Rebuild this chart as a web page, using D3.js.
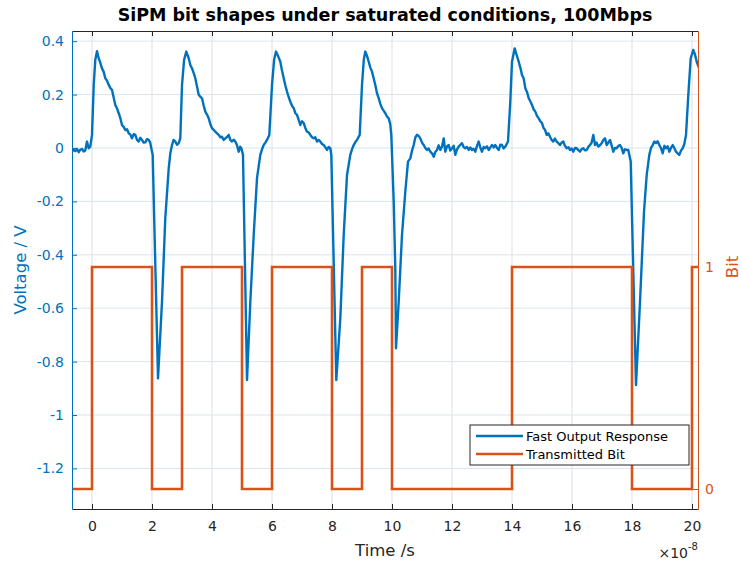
<!DOCTYPE html>
<html>
<head>
<meta charset="utf-8">
<script src="https://cdn.jsdelivr.net/npm/d3@7"></script>
<style>
body { margin: 0; background: #fff; }
svg { font-family: "DejaVu Sans", sans-serif; }
</style>
</head>
<body>
<svg id="chart" width="742" height="562"></svg>
<script>
// time is in units of 1e-8 s, voltage in V
var fastOutput = [
  [-0.667,-0.014],[-0.62,-0.006],[-0.557,-0.012],[-0.5,-0.004],[-0.443,-0.016],[-0.39,-0.006],[-0.333,-0.004],[-0.28,-0.013],
  [-0.223,-0.009],[-0.167,0.024],[-0.11,-0.001],[-0.057,0.005],[0,0.049],[0.057,0.236],[0.11,0.33],[0.167,0.362],
  [0.223,0.336],[0.28,0.318],[0.333,0.298],[0.39,0.285],[0.443,0.261],[0.5,0.252],[0.557,0.236],[0.61,0.225],[0.667,0.217],
  [0.72,0.19],[0.777,0.161],[0.833,0.148],[0.89,0.130],[0.943,0.112],[1.0,0.086],[1.055,0.079],[1.11,0.067],[1.167,0.07],
  [1.223,0.055],[1.28,0.05],[1.333,0.036],[1.39,0.052],[1.443,0.049],[1.5,0.03],[1.557,0.024],[1.61,0.038],[1.667,0.030],
  [1.72,0.02],[1.777,0.021],[1.833,0.033],[1.89,0.030],[1.94,0.02],[1.977,-0.001],[2.023,-0.026],
  [2.2,-0.863],[2.333,-0.576],[2.443,-0.263],[2.557,-0.076],[2.61,-0.02],[2.667,0.011],[2.72,0.03],[2.777,0.024],[2.833,0.012],
  [2.89,0.018],[2.943,0.036],[3.0,0.236],[3.07,0.33],[3.143,0.361],
  [3.223,0.336],[3.28,0.31],[3.333,0.298],[3.39,0.28],[3.443,0.261],[3.5,0.23],[3.557,0.199],[3.61,0.192],[3.667,0.186],
  [3.72,0.16],[3.777,0.136],[3.833,0.125],[3.89,0.111],[3.943,0.09],[4.0,0.074],[4.055,0.068],[4.11,0.061],[4.167,0.055],
  [4.223,0.049],[4.28,0.04],[4.333,0.042],[4.39,0.03],[4.443,0.036],[4.5,0.041],[4.557,0.049],[4.61,0.03],[4.667,0.024],
  [4.72,0.031],[4.777,0.024],[4.833,0.01],[4.89,-0.014],[4.94,0.005],[4.977,-0.001],[5.033,-0.026],
  [5.167,-0.869],[5.277,-0.576],[5.39,-0.326],[5.5,-0.113],[5.61,-0.026],[5.667,-0.005],[5.723,0.011],[5.78,0.02],
  [5.833,0.030],[5.91,0.049],[6.0,0.236],[6.07,0.33],[6.133,0.361],
  [6.2,0.345],[6.277,0.323],[6.333,0.29],[6.39,0.261],[6.443,0.235],[6.5,0.211],[6.557,0.19],[6.61,0.173],[6.667,0.158],
  [6.723,0.149],[6.78,0.13],[6.833,0.124],[6.89,0.105],[6.943,0.086],[7.0,0.1],[7.057,0.093],[7.11,0.075],[7.167,0.061],
  [7.223,0.058],[7.277,0.049],[7.333,0.04],[7.39,0.036],[7.443,0.04],[7.5,0.024],[7.557,0.03],[7.61,0.024],[7.667,0.015],
  [7.723,0.011],[7.78,0.002],[7.833,-0.0075],[7.89,0.004],[7.943,-0.001],[7.977,-0.026],
  [8.143,-0.869],[8.277,-0.638],[8.39,-0.326],[8.5,-0.101],[8.61,-0.026],[8.667,-0.005],[8.723,0.011],[8.78,0.022],
  [8.833,0.030],[8.923,0.049],[9.0,0.236],[9.06,0.33],[9.11,0.361],
  [9.167,0.345],[9.223,0.323],[9.28,0.3],[9.333,0.286],[9.39,0.26],[9.443,0.236],[9.5,0.205],[9.557,0.186],[9.61,0.165],
  [9.667,0.149],[9.72,0.14],[9.777,0.130],[9.833,0.118],[9.89,0.111],[9.94,0.09],[9.977,0.049],[10.057,-0.201],
  [10.11,-0.451],[10.133,-0.750],
  [10.223,-0.576],[10.333,-0.326],[10.443,-0.164],[10.533,-0.051],[10.61,-0.039],[10.667,-0.01],[10.723,0.011],[10.78,0.04],
  [10.833,0.049],[10.89,0.045],[10.943,0.036],[11.0,0.02],[11.057,0.011],[11.11,0.0],[11.167,-0.0075],[11.22,-0.002],
  [11.277,-0.014],[11.333,-0.02],[11.39,-0.033],[11.443,-0.015],[11.5,-0.0075],[11.555,0.01],[11.61,-0.0075],[11.667,0.005],
  [11.723,0.036],[11.777,-0.014],[11.833,0.006],[11.89,0.011],[11.943,-0.01],[12.0,-0.001],[12.055,0.008],[12.11,-0.026],
  [12.167,-0.005],[12.223,0.005],[12.28,0.012],[12.333,0.018],[12.39,0.003],[12.443,-0.001],[12.5,0.004],[12.557,-0.0075],
  [12.61,0.002],[12.667,-0.0075],[12.72,-0.003],[12.777,-0.014],[12.833,0.008],[12.89,0.024],[12.943,0.002],[13.0,-0.014],
  [13.055,0.004],[13.11,-0.001],[13.167,0.006],[13.223,-0.0075],[13.28,0.002],[13.333,0.011],[13.39,0.002],[13.443,0.011],
  [13.5,0.0],[13.557,-0.0075],[13.61,0.012],[13.667,0.011],[13.72,-0.002],[13.777,0.005],[13.867,0.024],[13.943,0.173],
  [14.0,0.323],[14.09,0.373],
  [14.15,0.35],[14.223,0.323],[14.28,0.3],[14.333,0.273],[14.39,0.26],[14.443,0.224],[14.5,0.21],[14.557,0.186],[14.61,0.175],
  [14.667,0.161],[14.72,0.145],[14.777,0.136],[14.833,0.12],[14.89,0.111],[14.943,0.1],[15.0,0.093],[15.05,0.075],[15.1,0.068],
  [15.157,0.049],[15.21,0.055],[15.267,0.042],[15.32,0.03],[15.377,0.024],[15.43,0.035],[15.49,0.024],[15.545,0.018],
  [15.6,0.011],[15.655,0.02],[15.71,0.024],[15.765,0.008],[15.823,-0.001],[15.88,0.003],[15.933,-0.0075],[15.99,-0.002],
  [16.043,-0.014],[16.1,0.0],[16.157,-0.001],[16.21,-0.008],[16.267,-0.014],[16.32,-0.004],[16.377,-0.001],[16.43,-0.009],
  [16.49,-0.0075],[16.545,0.004],[16.6,0.011],[16.655,0.02],[16.71,0.049],[16.767,0.011],[16.82,0.02],[16.877,0.005],
  [16.93,0.01],[16.99,0.018],[17.045,0.03],[17.1,0.036],[17.157,0.011],[17.21,0.02],[17.267,0.030],[17.32,0.01],
  [17.377,-0.014],[17.43,0.0],[17.49,-0.001],[17.545,0.008],[17.6,0.011],[17.655,0.0],[17.71,-0.020],[17.765,-0.005],
  [17.823,-0.0075],[17.877,-0.0075],[17.957,-0.051],
  [18.133,-0.888],[18.267,-0.576],[18.4,-0.239],[18.49,-0.101],[18.577,-0.026],[18.633,0.0],[18.69,0.011],[18.745,0.024],
  [18.8,0.018],[18.855,0.025],[18.91,0.011],[18.965,0.0],[19.023,-0.020],[19.08,0.008],[19.133,-0.001],[19.19,0.006],
  [19.243,-0.014],[19.3,0.0],[19.357,0.011],[19.41,0.0],[19.467,-0.014],[19.52,-0.02],[19.577,-0.026],[19.633,-0.01],
  [19.69,-0.001],[19.745,0.015],[19.8,0.049],[19.877,0.199],[19.957,0.336],[20.043,0.367],[20.1,0.35],[20.157,0.323],
  [20.243,0.298]
];

// transmitted bit: level starting at each edge
var bitEdges  = [-0.667, 0, 2, 3, 5, 6, 8, 9, 10, 14, 18, 20, 20.2];
var bitValues = [0, 1, 0, 1, 0, 1, 0, 1, 0, 1, 0, 1];

var timeTicks = [0, 2, 4, 6, 8, 10, 12, 14, 16, 18, 20];
var voltTicks = [-1.2, -1, -0.8, -0.6, -0.4, -0.2, 0, 0.2, 0.4];
var bitTicks = [0, 1];
var seriesNames = ["Fast Output Response", "Transmitted Bit"];

var blue = "#0072BD", orange = "#D95319", dark = "#262626";
var margin = {top: 31, right: 44, bottom: 53, left: 72};
var width = 742 - margin.left - margin.right;
var height = 562 - margin.top - margin.bottom;

var svg = d3.select("#chart");
var g = svg.append("g").attr("transform", "translate(" + margin.left + "," + margin.top + ")");

var x = d3.scaleLinear().domain([-0.667, 20.2]).range([0, width]);
var yV = d3.scaleLinear().domain([-1.352, 0.438]).range([height, 0]);
var yB = d3.scaleLinear().domain([-0.09, 2.063]).range([height, 0]);

// grid
g.append("g").selectAll("line").data(timeTicks).enter().append("line")
    .attr("x1", function (d) { return x(d); }).attr("x2", function (d) { return x(d); })
    .attr("y1", 0).attr("y2", height)
    .style("stroke", "#dfdfdf").style("stroke-width", 1);
g.append("g").selectAll("line").data(voltTicks).enter().append("line")
    .attr("x1", 0).attr("x2", width)
    .attr("y1", function (d) { return yV(d); }).attr("y2", function (d) { return yV(d); })
    .style("stroke", "#d6e6f3").style("stroke-width", 1);

g.append("clipPath").attr("id", "plotclip")
    .append("rect").attr("width", width).attr("height", height);

var lineV = d3.line()
    .x(function (d) { return x(d[0]); })
    .y(function (d) { return yV(d[1]); });

g.append("path").datum(fastOutput)
    .attr("clip-path", "url(#plotclip)")
    .attr("d", lineV)
    .style("fill", "none").style("stroke", blue)
    .style("stroke-width", 2.4).style("stroke-linejoin", "round");

var bitPoints = bitValues.map(function (v, i) { return [bitEdges[i], v]; });
bitPoints.push([bitEdges[bitEdges.length - 1], bitValues[bitValues.length - 1]]);

var lineB = d3.line().curve(d3.curveStepAfter)
    .x(function (d) { return x(d[0]); })
    .y(function (d) { return yB(d[1]); });

g.append("path").datum(bitPoints)
    .attr("clip-path", "url(#plotclip)")
    .attr("d", lineB)
    .style("fill", "none").style("stroke", orange)
    .style("stroke-width", 2.6);

function fmt(d) {
    var s = String(+d.toFixed(1));
    return s === "-0" ? "0" : s;
}

// axes, ticks pointing inwards
var xAxis = g.append("g").attr("transform", "translate(0," + height + ")")
    .call(d3.axisBottom(x).tickValues(timeTicks).tickFormat(fmt)
        .tickSizeInner(-5).tickSizeOuter(0).tickPadding(12));
var xTop = g.append("g")
    .call(d3.axisTop(x).tickValues(timeTicks).tickFormat("")
        .tickSizeInner(-5).tickSizeOuter(0));
var yAxis = g.append("g")
    .call(d3.axisLeft(yV).tickValues(voltTicks).tickFormat(fmt)
        .tickSizeInner(-5).tickSizeOuter(0).tickPadding(8));
var yRight = g.append("g").attr("transform", "translate(" + width + ",0)")
    .call(d3.axisRight(yB).tickValues(bitTicks).tickFormat(fmt)
        .tickSizeInner(-5).tickSizeOuter(0).tickPadding(7));

[xAxis, xTop].forEach(function (a) {
    a.select(".domain").style("stroke", dark);
    a.selectAll(".tick line").style("stroke", dark);
    a.selectAll("text").style("fill", dark).style("font-size", "14px")
        .style("font-family", "DejaVu Sans");
});
yAxis.select(".domain").style("stroke", blue);
yAxis.selectAll(".tick line").style("stroke", blue);
yAxis.selectAll("text").style("fill", blue).style("font-size", "14px").style("font-family", "DejaVu Sans");
yRight.select(".domain").style("stroke", orange);
yRight.selectAll(".tick line").style("stroke", orange);
yRight.selectAll("text").style("fill", orange).style("font-size", "14px").style("font-family", "DejaVu Sans");

// labels
svg.append("text")
    .attr("x", margin.left + width / 2).attr("y", 21)
    .attr("text-anchor", "middle")
    .style("font-size", "17.5px").style("font-weight", "bold").style("fill", "#000")
    .text("SiPM bit shapes under saturated conditions, 100Mbps");

svg.append("text")
    .attr("x", margin.left + width / 2).attr("y", 556)
    .attr("text-anchor", "middle")
    .style("font-size", "16.5px").style("fill", dark)
    .text("Time /s");

var expo = svg.append("text")
    .attr("x", margin.left + width).attr("y", 558)
    .attr("text-anchor", "end")
    .style("font-size", "14px").style("fill", dark);
expo.append("tspan").text("\u00d710");
expo.append("tspan").attr("dy", -8).style("font-size", "10px").text("-8");

svg.append("text")
    .attr("transform", "translate(26," + (margin.top + height / 2) + ") rotate(-90)")
    .attr("text-anchor", "middle")
    .style("font-size", "16.5px").style("fill", blue)
    .text("Voltage / V");

svg.append("text")
    .attr("transform", "translate(738," + (margin.top + yB(1)) + ") rotate(-90)")
    .attr("text-anchor", "middle")
    .style("font-size", "16.5px").style("fill", orange)
    .text("Bit");

// legend
var legend = svg.append("g").attr("transform", "translate(470,425)");
legend.append("rect").attr("width", 219).attr("height", 40)
    .style("fill", "#fff").style("stroke", dark).style("stroke-width", 1);
legend.selectAll(".entry").data(seriesNames).enter().append("g")
    .attr("class", "entry")
    .attr("transform", function (d, i) { return "translate(0," + (11 + i * 18) + ")"; })
    .each(function (d, i) {
        var e = d3.select(this);
        e.append("line").attr("x1", 6).attr("x2", 53).attr("y1", 0).attr("y2", 0)
            .style("stroke", i === 0 ? blue : orange).style("stroke-width", i === 0 ? 2.4 : 2.6);
        e.append("text").attr("x", 56).attr("y", 5)
            .style("font-size", "13px").style("fill", "#000")
            .text(d);
    });
</script>
</body>
</html>
